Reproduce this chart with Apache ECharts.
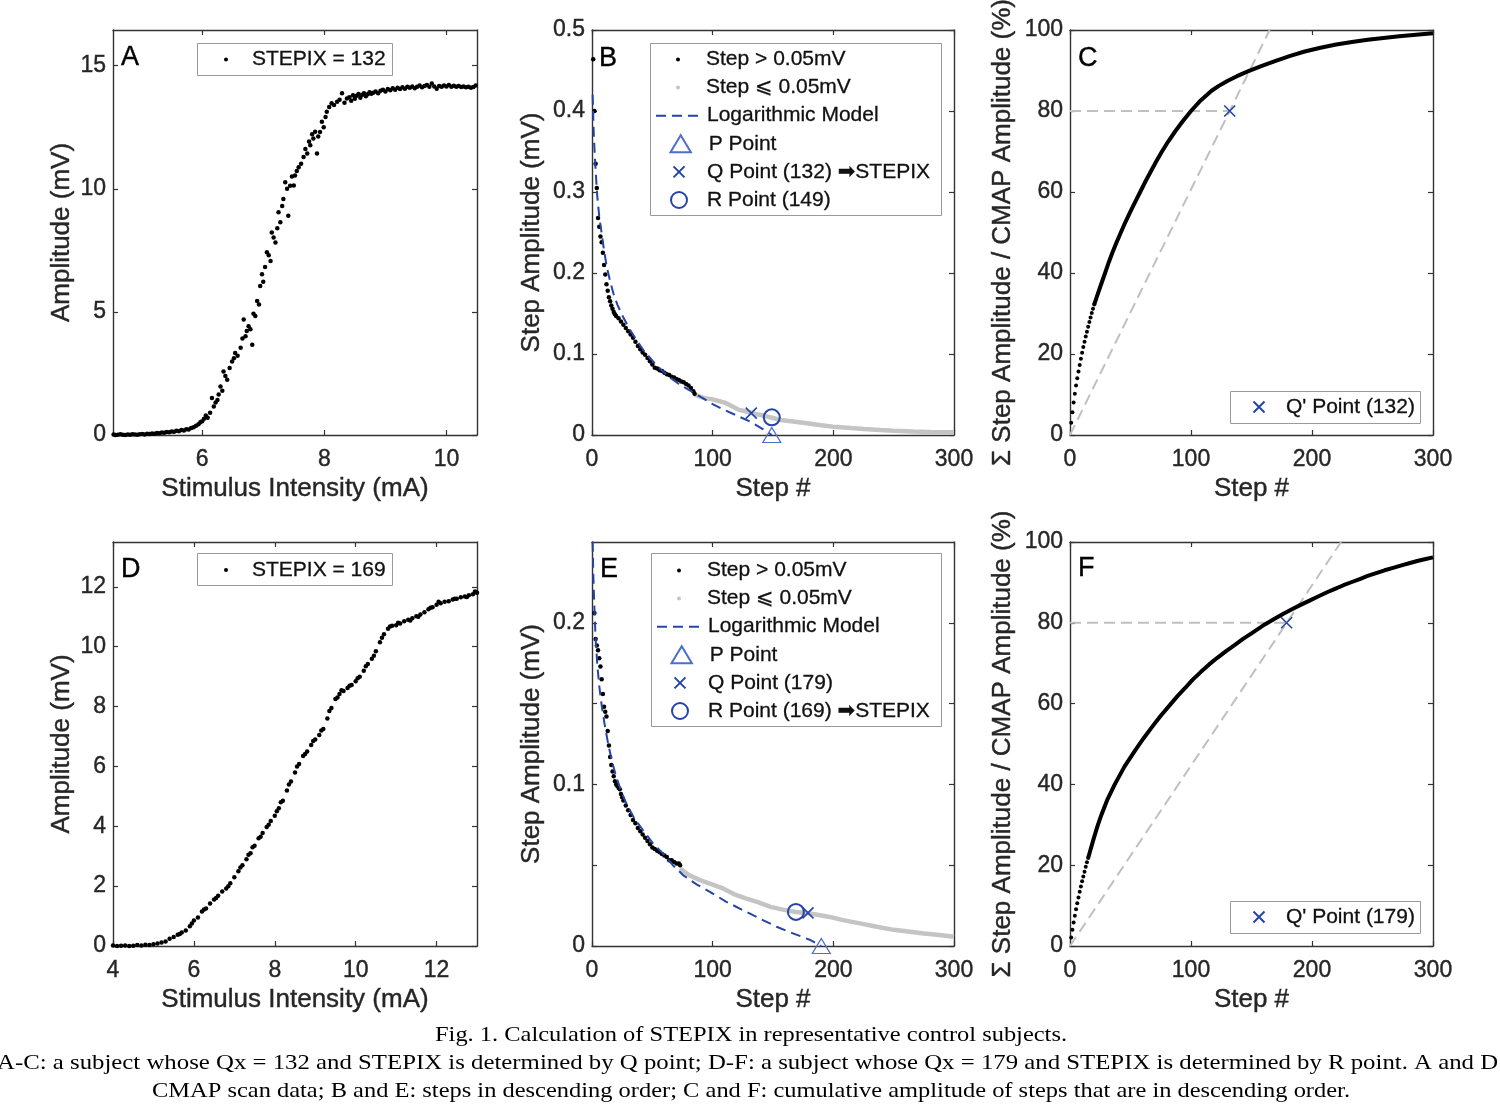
<!DOCTYPE html>
<html><head><meta charset="utf-8">
<script src="https://cdn.jsdelivr.net/npm/echarts@6/dist/echarts.min.js"></script>
<style>html,body{margin:0;padding:0;background:#fff}#c{width:1500px;height:1105px}</style>
</head><body><div id="c"></div>
<script>
// ---------------- DATA ----------------
// Panel A: CMAP scan, subject 1 (stimulus mA, amplitude mV)
const scanA = [
[4.55,0.02],[4.58,0.00],[4.62,0.01],[4.66,0.03],[4.70,0.01],[4.74,0.00],[4.78,0.02],[4.82,0.01],[4.86,0.03],[4.90,0.02],[4.94,0.01],[4.98,0.03],[5.02,0.04],[5.06,0.02],[5.10,0.05],[5.14,0.04],[5.18,0.06],[5.22,0.05],[5.26,0.08],[5.30,0.07],[5.34,0.10],[5.38,0.09],[5.42,0.12],[5.46,0.11],[5.50,0.14],[5.54,0.13],[5.58,0.17],[5.62,0.15],[5.66,0.20],[5.70,0.18],[5.74,0.23],[5.78,0.22],[5.82,0.28],[5.86,0.31],[5.90,0.38],[5.94,0.44],[5.97,0.52],
[6.00,0.56],[6.03,0.66],[6.06,0.79],[6.09,0.70],[6.13,0.90],[6.16,1.50],[6.19,1.16],[6.22,1.32],[6.25,1.42],[6.27,1.64],[6.30,1.97],[6.33,1.80],[6.35,2.58],[6.38,2.40],[6.41,2.24],[6.45,2.72],[6.49,2.99],[6.52,3.12],[6.54,3.33],[6.58,3.22],[6.63,3.54],[6.66,3.92],[6.68,4.69],[6.71,4.01],[6.73,4.22],[6.76,4.42],[6.79,4.30],[6.82,3.67],[6.84,4.92],[6.87,4.83],[6.90,5.44],[6.93,5.30],[6.95,6.05],[6.98,6.53],[7.00,6.22],[7.03,6.82],[7.06,7.42],[7.09,7.30],[7.12,7.07],[7.14,8.23],[7.17,8.02],[7.20,7.82],[7.23,8.40],[7.25,9.05],[7.28,8.64],[7.31,9.30],[7.33,9.59],[7.36,10.27],[7.39,10.00],[7.41,8.91],[7.44,10.12],[7.47,10.50],[7.50,10.13],[7.52,10.54],[7.55,10.72],[7.58,10.88],[7.62,11.02],[7.66,11.29],[7.69,11.62],[7.72,11.43],[7.75,11.92],[7.77,11.77],[7.80,12.22],[7.82,12.04],[7.85,12.32],[7.88,11.43],[7.90,12.12],[7.93,12.31],[7.96,12.72],[7.99,12.50],[8.02,12.92],[8.04,13.13],[8.08,13.32],[8.12,13.47],[8.16,13.40],[8.21,13.54],[8.25,13.62],[8.29,13.88],[8.33,13.50],[8.37,13.67],
[8.41,13.72],[8.44,13.58],[8.47,13.80],[8.50,13.66],[8.53,13.78],[8.56,13.85],[8.59,13.70],[8.62,13.82],[8.65,13.88],[8.68,13.76],[8.71,13.84],[8.74,13.92],[8.77,13.86],[8.80,13.90],[8.84,13.95],[8.88,13.88],[8.92,13.98],[8.96,14.02],[9.00,13.95],[9.04,14.05],[9.08,14.00],[9.12,14.08],[9.16,14.02],[9.20,14.10],[9.24,14.05],[9.28,14.12],[9.32,14.06],[9.36,14.14],[9.40,14.10],[9.44,14.16],[9.48,14.08],[9.52,14.15],[9.56,14.20],[9.60,14.12],[9.64,14.18],[9.68,14.22],[9.72,14.14],[9.76,14.28],[9.80,14.16],[9.84,14.06],[9.88,14.18],[9.92,14.14],[9.96,14.20],[10.00,14.16],[10.04,14.22],[10.08,14.14],[10.12,14.19],[10.16,14.15],[10.20,14.18],[10.24,14.13],[10.28,14.16],[10.32,14.12],[10.36,14.15],[10.40,14.10],[10.44,14.13],[10.48,14.20]
];
// Panel D: CMAP scan, subject 2
const scanD = [
[4.0,0.02],[4.1,0.00],[4.2,0.01],[4.3,0.02],[4.4,0.00],[4.5,0.01],[4.6,0.03],[4.7,0.02],[4.8,0.04],[4.9,0.03],[5.0,0.06],[5.1,0.08],[5.2,0.12],[5.3,0.15],[5.4,0.24],[5.5,0.30],[5.6,0.38],[5.7,0.45],[5.8,0.52],[5.9,0.66],[6.0,0.85],[6.1,0.95],[6.2,1.15],[6.3,1.25],[6.4,1.42],[6.5,1.55],[6.6,1.68],[6.7,1.82],[6.8,1.92],[6.9,2.10],[7.0,2.30],[7.1,2.50],[7.2,2.70],[7.3,2.90],[7.4,3.10],[7.5,3.35],[7.6,3.60],[7.7,3.78],[7.8,3.98],[7.9,4.18],[8.0,4.35],[8.1,4.60],[8.2,4.85],[8.3,5.20],[8.4,5.50],[8.5,5.80],[8.6,6.08],[8.7,6.35],[8.8,6.50],[8.9,6.72],[9.0,6.90],[9.1,7.05],[9.2,7.25],[9.3,7.60],[9.4,7.95],[9.5,8.25],[9.6,8.42],[9.7,8.52],[9.8,8.62],[9.9,8.72],[10.0,8.85],[10.1,9.00],[10.2,9.20],[10.3,9.42],[10.4,9.60],[10.5,9.85],[10.6,10.15],[10.7,10.42],[10.8,10.60],[10.9,10.70],[11.0,10.72],[11.1,10.78],[11.2,10.85],[11.3,10.90],[11.4,10.95],[11.5,11.02],[11.6,11.08],[11.7,11.15],[11.8,11.25],[11.9,11.32],[12.0,11.40],[12.1,11.45],[12.2,11.50],[12.3,11.52],[12.4,11.58],[12.5,11.60],[12.6,11.65],[12.7,11.68],[12.8,11.72],[12.9,11.75],[13.0,11.80],
[5.65,0.40],[5.95,0.75],[6.25,1.22],[6.55,1.60],[6.85,2.00],[7.15,2.62],[7.35,3.05],[7.45,3.30],[7.65,3.65],[7.85,4.05],[8.05,4.50],[8.15,4.80],[8.35,5.40],[8.55,6.00],[8.75,6.42],[8.95,6.85],[9.15,7.20],[9.35,7.85],[9.55,8.30],[9.65,8.55],[9.85,8.70],[10.05,8.95],[10.25,9.35],[10.45,9.70],[10.65,10.30],[10.85,10.68],[11.05,10.80],[11.35,10.88],[11.55,11.00],[11.85,11.30],[12.05,11.50],[12.45,11.60],[12.75,11.66],[12.95,11.85]
];
// Panel B: steps in descending order (step #, amplitude mV)
const stepsBig1 = [[1,0.464],[2,0.400],[3,0.335],[4,0.305],[5,0.268],[6,0.257],[7,0.245],[8,0.238],[9,0.225],[10,0.210],[11,0.198],[12,0.186],[13,0.178],[14,0.170],[15,0.165],[16,0.160],[17,0.156],[18,0.152],[19,0.149],[20,0.147],[22,0.144],[24,0.140],[26,0.136],[28,0.132],[30,0.128],[32,0.124],[34,0.120],[36,0.115],[38,0.110],[40,0.106],[42,0.102],[44,0.099],[46,0.095],[48,0.091],[50,0.087],[52,0.083],[54,0.082],[56,0.080],[58,0.079],[60,0.077],[62,0.075],[64,0.074],[66,0.072],[68,0.071],[70,0.069],[72,0.068],[74,0.066],[76,0.065],[78,0.063],[80,0.061],[82,0.058],[84,0.054],[85,0.051]];
const stepsSmall1 = [[85,0.050],[90,0.047],[95,0.045],[100,0.044],[105,0.042],[110,0.040],[114,0.037],[118,0.034],[122,0.031],[128,0.029],[135,0.026],[142,0.024],[150,0.021],[156,0.0185],[165,0.017],[178,0.0144],[190,0.012],[200,0.0103],[215,0.0085],[225,0.0075],[239,0.0062],[250,0.0052],[266,0.0042],[280,0.0037],[300,0.0033]];
const logModel1 = [[0.5,0.42],[1,0.395],[1.5,0.37],[2.5,0.34],[3.5,0.315],[4.4,0.294],[6,0.27],[8,0.249],[10,0.228],[12.2,0.208],[15,0.19],[17.7,0.175],[21,0.161],[26,0.145],[31,0.131],[37,0.117],[43,0.104],[50.8,0.0905],[57,0.081],[64.6,0.071],[72,0.063],[81,0.055],[90,0.047],[100,0.038],[111,0.030],[123,0.022],[131,0.0165],[142,0.007],[149,0]];
const pPoint1 = [149, 0], qPoint1 = [132, 0.027], rPoint1 = [149, 0.0218];
// Panel E
const stepsBig2 = [[1,0.270],[2,0.206],[3,0.190],[4,0.186],[5,0.183],[6,0.178],[7,0.173],[8,0.165],[9,0.156],[10,0.148],[11,0.145],[12,0.142],[13,0.133],[14,0.124],[15,0.117],[16,0.112],[17,0.108],[18,0.105],[19,0.102],[20,0.100],[21,0.099],[22,0.098],[23,0.097],[24,0.094],[25,0.092],[26,0.090],[28,0.087],[30,0.084],[32,0.081],[34,0.078],[36,0.076],[38,0.073],[40,0.071],[42,0.069],[44,0.067],[46,0.065],[48,0.063],[50,0.061],[52,0.060],[54,0.059],[56,0.058],[58,0.057],[60,0.056],[62,0.055],[64,0.053],[66,0.053],[68,0.052],[70,0.051],[72,0.051],[73,0.050]];
const stepsSmall2 = [[73,0.048],[80,0.044],[90,0.0406],[100,0.038],[109,0.0355],[118,0.032],[128,0.0293],[138,0.027],[148,0.0242],[158,0.0225],[169,0.021],[179,0.0203],[189,0.019],[197,0.018],[208,0.016],[222,0.014],[236,0.0119],[250,0.010],[262,0.009],[275,0.0078],[288,0.0068],[300,0.0057]];
const logModel2 = [[0.4,0.27],[0.6,0.248],[1,0.232],[1.7,0.215],[3,0.19],[4.4,0.174],[6,0.161],[8,0.149],[10.5,0.137],[13.5,0.1247],[17,0.113],[20.4,0.104],[24,0.096],[28.7,0.0878],[35,0.079],[42.5,0.0714],[50,0.064],[59,0.057],[67,0.050],[76,0.0435],[87,0.038],[98,0.0334],[111,0.0275],[125,0.0222],[139,0.017],[153,0.0119],[167,0.0077],[181,0.0037],[190,0]];
const pPoint2 = [190, 0], qPoint2 = [179, 0.0205], rPoint2 = [169, 0.0211];
// Panels C, F: cumulative step amplitude / CMAP amplitude (%)
const cumDots1 = [[1,3.0],[2,5.6],[3,8.0],[4,10.2],[5,12.2],[6,14.0],[7,15.7],[8,17.3],[9,18.8],[10,20.3],[11,21.7],[12,23.0],[13,24.3],[14,25.5],[15,26.7],[16,27.9],[17,29.0],[18,30.1],[19,31.2],[20,32.2]];
const cumLine1 = [[20,32.2],[22,34.0],[25,36.6],[29,40.0],[32,42.6],[35,45.0],[38,47.2],[42,50.0],[46,52.7],[50,55.2],[54,57.6],[58,60.0],[62,62.4],[67,65.2],[71,67.4],[76,70.0],[81,72.4],[87,75.0],[93,77.4],[100,80.0],[108,82.6],[117,85.0],[123,86.2],[130,87.4],[138,88.6],[147,89.8],[158,91.1],[170,92.4],[182,93.6],[194,94.7],[207,95.6],[220,96.4],[233,97.05],[246,97.6],[259,98.05],[272,98.45],[286,98.85],[300,99.2]];
const qPrime1 = [132, 80];
const hGuide1 = [[0,80],[132,80]], dGuide1 = [[0,0],[165,100]];
const cumDots2 = [[1,2.1],[2,4.0],[3,5.8],[4,7.5],[5,9.1],[6,10.6],[7,12.0],[8,13.4],[9,14.7],[10,16.0],[11,17.2],[12,18.4],[13,19.6],[14,20.7],[15,21.8]];
const cumLine2 = [[15,21.8],[17,23.9],[20,27.0],[23,29.9],[26,32.5],[31,36.3],[37,40.0],[45,44.4],[54,48.5],[61,51.5],[68,54.3],[75,57.0],[83,59.8],[89,61.9],[95,63.8],[101,65.8],[108,67.8],[115,69.7],[122,71.4],[129,73.0],[136,74.5],[143,76.0],[150,77.4],[161,79.6],[168,80.8],[176,82.2],[183,83.3],[191,84.5],[198,85.5],[205,86.5],[212,87.5],[219,88.4],[226,89.3],[233,90.1],[240,90.9],[246,91.6],[253,92.3],[260,93.0],[267,93.6],[274,94.2],[281,94.8],[287,95.3],[294,95.8],[300,96.2]];
const qPrime2 = [179, 80];
const hGuide2 = [[0,80],[179,80]], dGuide2 = [[0,0],[224,100]];
// Tick values
const ticksAx = [6,8,10], ticksAy = [0,5,10,15];
const ticksDx = [4,6,8,10,12], ticksDy = [0,2,4,6,8,10,12];
const ticksStep = [0,100,200,300];
const ticksBy = [0,0.1,0.2,0.3,0.4,0.5];
const ticksEy = [0,0.05,0.1,0.15,0.2], labelsEy = [0,0.1,0.2];
const ticksPct = [0,20,40,60,80,100];
// Texts
const panelLetters = ['A','B','C','D','E','F'];
const captionLines = [
 'Fig. 1. Calculation of STEPIX in representative control subjects.',
 'A-C: a subject whose Qx = 132 and STEPIX is determined by Q point; D-F: a subject whose Qx = 179 and STEPIX is determined by R point. A and D:',
 'CMAP scan data; B and E: steps in descending order; C and F: cumulative amplitude of steps that are in descending order.'
];

// ---------------- CHART ----------------
const FONT = "'Liberation Sans', Arial, 'DejaVu Sans', sans-serif";
const SERIF = "'Liberation Serif', 'Times New Roman', serif";
const AX = '#262626';
const BLUE = '#2444a8';
const CROSS = 'path://M0,0L10,10M10,0L0,10';
const TRI = 'path://M0,15L9,0L18,15Z';

const panels = [
 {grid:{left:113,top:30,width:364,height:405}, x:[4.54,10.5], xt:ticksAx, xl:ticksAx, y:[0,16.45], yt:ticksAy, yl:ticksAy, xName:'Stimulus Intensity (mA)', yName:'Amplitude (mV)', yGap:38},
 {grid:{left:592,top:30,width:362,height:405}, x:[0,300], xt:ticksStep, xl:ticksStep, y:[0,0.5], yt:ticksBy, yl:ticksBy, xName:'Step #', yName:'Step Amplitude (mV)', yGap:47},
 {grid:{left:1070,top:30,width:363,height:405}, x:[0,300], xt:ticksStep, xl:ticksStep, y:[0,100], yt:ticksPct, yl:ticksPct, xName:'Step #', yName:'\u03A3 Step Amplitude / CMAP Amplitude (%)', yGap:54},
 {grid:{left:113,top:542,width:364,height:404}, x:[4,13], xt:ticksDx, xl:ticksDx, y:[0,13.5], yt:ticksDy, yl:ticksDy, xName:'Stimulus Intensity (mA)', yName:'Amplitude (mV)', yGap:38},
 {grid:{left:592,top:542,width:362,height:404}, x:[0,300], xt:ticksStep, xl:ticksStep, y:[0,0.25], yt:ticksEy, yl:labelsEy, xName:'Step #', yName:'Step Amplitude (mV)', yGap:47},
 {grid:{left:1070,top:542,width:363,height:404}, x:[0,300], xt:ticksStep, xl:ticksStep, y:[0,100], yt:ticksPct, yl:ticksPct, xName:'Step #', yName:'\u03A3 Step Amplitude / CMAP Amplitude (%)', yGap:54}
];

const grid = [], xAxis = [], yAxis = [];
panels.forEach((p, i) => {
  grid.push(Object.assign({containLabel:false, outerBoundsMode:'none'}, p.grid));
  const line = {show:true, onZero:false, lineStyle:{color:'#333', width:1.4}};
  const tick = (vals) => ({show:true, inside:true, length:5, customValues:vals, lineStyle:{color:'#333', width:1.2}});
  const lab = (vals, m) => ({show:true, customValues:vals, margin:m, fontSize:23, color:AX, fontFamily:FONT, textBorderColor:AX, textBorderWidth:0.4});
  const nameStyle = {fontSize:26, color:AX, fontFamily:FONT, textBorderColor:AX, textBorderWidth:0.4};
  xAxis.push({gridIndex:i, type:'value', position:'bottom', min:p.x[0], max:p.x[1], splitLine:{show:false}, axisLine:line, axisTick:tick(p.xt), axisLabel:lab(p.xl, 13), name:p.xName, nameLocation:'middle', nameGap:41, nameMoveOverlap:false, nameTextStyle:nameStyle});
  xAxis.push({gridIndex:i, type:'value', position:'top', min:p.x[0], max:p.x[1], splitLine:{show:false}, axisLine:line, axisTick:tick(p.xt), axisLabel:{show:false}});
  yAxis.push({gridIndex:i, type:'value', position:'left', min:p.y[0], max:p.y[1], splitLine:{show:false}, axisLine:line, axisTick:tick(p.yt), axisLabel:lab(p.yl, 7), name:p.yName, nameLocation:'middle', nameGap:p.yGap, nameMoveOverlap:false, nameTextStyle:nameStyle});
  yAxis.push({gridIndex:i, type:'value', position:'right', min:p.y[0], max:p.y[1], splitLine:{show:false}, axisLine:line, axisTick:tick(p.yt), axisLabel:{show:false}});
});
const ax = (i) => ({xAxisIndex:2*i, yAxisIndex:2*i});
const base = {silent:true, animation:false};

const series = [];
function scatter(i, name, data, extra) { series.push(Object.assign({}, base, ax(i), {type:'scatter', name, data, symbolSize:4.5, itemStyle:{color:'#000', opacity:1}}, extra)); }
function line(i, name, data, extra) { series.push(Object.assign({}, base, ax(i), {type:'line', name, data, symbol:'none', showSymbol:false, smooth:false}, extra)); }

// A & D
scatter(0, 'STEPIX = 132', scanA);
scatter(3, 'STEPIX = 169', scanD);
// B & E
[[1, stepsBig1, stepsSmall1, logModel1, pPoint1, qPoint1, rPoint1, 'Q Point (132) \u27A1STEPIX', 'R Point (149)'],
 [4, stepsBig2, stepsSmall2, logModel2, pPoint2, qPoint2, rPoint2, 'Q Point (179)', 'R Point (169) \u27A1STEPIX']].forEach(d => {
  const i = d[0];
  line(i, 'Step \u2A7D 0.05mV', d[2], {z:2, lineStyle:{color:'#c4c4c4', width:4.5}, itemStyle:{color:'#c4c4c4'}});
  scatter(i, 'Step > 0.05mV', d[1], {z:3});
  line(i, 'Logarithmic Model', d[3], {z:4, lineStyle:{color:BLUE, width:2, type:[10,6], join:'round'}, itemStyle:{color:BLUE, opacity:0}});
  scatter(i, 'P Point', [d[4]], {z:5, symbol:TRI, symbolSize:[18,15], itemStyle:{color:'rgba(0,0,0,0)', borderColor:'#4d6fcc', borderWidth:1.2, opacity:1}});
  scatter(i, d[7], [d[5]], {z:5, symbol:CROSS, symbolSize:11, itemStyle:{color:'rgba(0,0,0,0)', borderColor:BLUE, borderWidth:1.6, opacity:1}});
  scatter(i, d[8], [d[6]], {z:5, symbol:'circle', symbolSize:16, itemStyle:{color:'rgba(0,0,0,0)', borderColor:BLUE, borderWidth:2, opacity:1}});
});
// C & F
[[2, cumDots1, cumLine1, hGuide1, dGuide1, qPrime1, "Q' Point (132)"],
 [5, cumDots2, cumLine2, hGuide2, dGuide2, qPrime2, "Q' Point (179)"]].forEach(d => {
  const i = d[0];
  line(i, 'guideH' + i, d[3], {z:2, lineStyle:{color:'#c0c0c0', width:2, type:[11,6]}});
  line(i, 'guideD' + i, d[4], {z:2, lineStyle:{color:'#c0c0c0', width:2, type:[11,6]}});
  scatter(i, 'cumDots' + i, d[1], {z:3, symbolSize:4});
  line(i, 'cum' + i, d[2], {z:3, lineStyle:{color:'#000', width:4, join:'round'}});
  scatter(i, d[6], [d[5]], {z:5, symbol:CROSS, symbolSize:11, itemStyle:{color:'rgba(0,0,0,0)', borderColor:BLUE, borderWidth:1.6, opacity:1}});
});

// Legends: one component per row (icon area width w, icon height h), boxes drawn as graphic rects
const legend = [];
function legRow(left, cy, name, w, h, opts) {
  opts = opts || {};
  const item = opts.icon ? {name, icon:opts.icon} : {name};
  // the legend aligns its visible content; a centred icon of size h leaves (w-h)/2 empty at the left
  const shift = opts.full ? 0 : (w - h) / 2;
  const lg = {show:true, selectedMode:false, orient:'horizontal', left:left + shift, top:cy - 12, padding:0, itemWidth:w, itemHeight:h, itemGap:0, z:20,
    symbolKeepAspect:true, data:[item], textStyle:{fontSize:21, lineHeight:24, color:'#111', fontFamily:FONT, textBorderColor:'#111', textBorderWidth:0.3}};
  if (opts.itemStyle) lg.itemStyle = opts.itemStyle;
  legend.push(lg);
}
legRow(205, 59.5, 'STEPIX = 132', 42, 4);
legRow(205, 570, 'STEPIX = 169', 42, 4);
const rowsB = [59.5, 87.6, 115.7, 143.8, 171.9, 200], rowsE = [570.5, 598.6, 626.7, 654.8, 682.9, 711];
[[655, rowsB, 'Q Point (132) \u27A1STEPIX', 'R Point (149)'], [656, rowsE, 'Q Point (179)', 'R Point (169) \u27A1STEPIX']].forEach(d => {
  const L = d[0], r = d[1];
  legRow(L, r[0], 'Step > 0.05mV', 46, 4);
  legRow(L, r[1], 'Step \u2A7D 0.05mV', 46, 4, {icon:'circle'});
  legRow(L, r[2], 'Logarithmic Model', 46, 14, {full:true, itemStyle:{opacity:0}});
  legRow(L, r[3], 'P Point', 46, 17);
  legRow(L, r[4], d[2], 46, 11);
  legRow(L, r[5], d[3], 46, 16);
});
legRow(1236, 407, "Q' Point (132)", 44, 11);
legRow(1236, 917, "Q' Point (179)", 44, 11);

const graphic = [];
function box(x, y, w, h) { graphic.push({type:'rect', z:10, shape:{x, y, width:w, height:h}, style:{fill:'#fff', stroke:'#9a9a9a', lineWidth:1}}); }
box(197.5, 43.5, 195, 32); box(197.5, 553.5, 195, 32);
box(650.5, 43.5, 291, 172); box(651.5, 553.5, 290, 173);
box(1230.5, 391.5, 190, 32); box(1230.5, 901.5, 190, 32);
const letterPos = [[121,58],[599,58.5],[1078,59],[121,570],[600,570],[1078,569]];
panelLetters.forEach((t, i) => graphic.push({type:'text', z:30, x:letterPos[i][0], y:letterPos[i][1],
  style:{text:t, font:'27px ' + FONT, fill:'#000', stroke:'#000', lineWidth:0.4, textAlign:'left', align:'left', textVerticalAlign:'middle', verticalAlign:'middle'}}));
// caption (serif), horizontally fitted to the reference line widths
const capFont = '22px ' + SERIF;
const capWidths = [632, 1508, 1198], capY = [1035, 1063, 1091];
const mctx = document.createElement('canvas').getContext('2d');
mctx.font = capFont;
captionLines.forEach((t, i) => {
  const sx = capWidths[i] / mctx.measureText(t).width;
  graphic.push({type:'text', z:30, x:751, y:capY[i], scaleX:sx,
    style:{text:t, font:capFont, fill:'#000', textAlign:'center', align:'center', textVerticalAlign:'middle', verticalAlign:'middle'}});
});

const chart = echarts.init(document.getElementById('c'), null, {renderer:'canvas'});
chart.setOption({animation:false, backgroundColor:'#fff', grid, xAxis, yAxis, series, legend, graphic});
</script>
</body></html>
